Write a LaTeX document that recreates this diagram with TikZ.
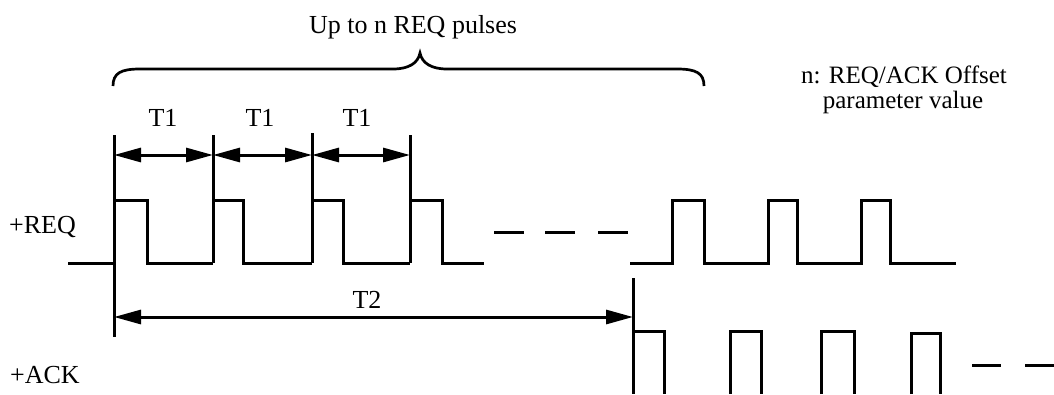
\documentclass[tikz,border=0pt]{standalone}
\usepackage{fontspec}
\setmainfont{Liberation Serif}
\usetikzlibrary{arrows.meta}
\begin{document}
\begin{tikzpicture}[x=1pt,y=-1pt,
  sig/.style={line width=3pt},
  brc/.style={line width=2.7pt},
  dim/.style={line width=3pt,{Triangle[length=27pt,width=14pt]}-{Triangle[length=27pt,width=14pt]}},
  lbl/.style={inner sep=0pt,anchor=base,font=\fontsize{26}{30}\selectfont}]
\useasboundingbox (0,0) rectangle (1054,394);
% brace
\draw[brc] (113,86) .. controls (113,73) and (121,69) .. (140,69) -- (393,69)
  .. controls (409,69) and (418,63) .. (420,53)
  .. controls (422,63) and (431,69) .. (447,69) -- (677,69)
  .. controls (696,69) and (704,73) .. (704,86);
\node[lbl] (up) at (413,33) {Up to n REQ pulses};
\node[lbl,font=\fontsize{25}{29}\selectfont] (off1) at (904,83) {n: REQ/ACK Offset};
\node[lbl,font=\fontsize{25}{29}\selectfont] (off2) at (903,108) {parameter value};
% labels
\node[lbl,anchor=base west] (req) at (9,233) {+REQ};
\node[lbl,anchor=base west] (ack) at (10,383) {+ACK};
% marker coordinates
\coordinate (m1t) at (114,135);
\coordinate (m1b) at (114,337);
\coordinate (m2t) at (213,135);
\coordinate (m3t) at (312,133);
\coordinate (m4t) at (410,135);
\coordinate (m5t) at (633,278);
\coordinate (m5b) at (633,394);
% markers
\draw[sig] (m1t) -- (m1b);
\draw[sig] (m2t) -- (213,263);
\draw[sig] (m3t) -- (312,263);
\draw[sig] (m4t) -- (410,263);
\draw[sig] (m5t) -- (m5b);
% REQ waveform left
\draw[sig] (68,263) -- (114,263);
\draw[sig] (114,200) -- (147,200) -- (147,263) -- (213,263);
\draw[sig] (213,200) -- (243,200) -- (243,263) -- (312,263);
\draw[sig] (312,200) -- (343,200) -- (343,263) -- (410,263);
\draw[sig] (410,200) -- (442,200) -- (442,263) -- (484,263);
% dashes
\draw[sig] (494,232) -- (524,232);
\draw[sig] (545,232) -- (575,232);
\draw[sig] (598,232) -- (628,232);
% REQ waveform right
\draw[sig] (630,263) -- (672,263) -- (672,200) -- (704,200) -- (704,263)
  -- (768,263) -- (768,200) -- (797,200) -- (797,263)
  -- (861,263) -- (861,200) -- (890,200) -- (890,263) -- (956,263);
% ACK waveform
\draw[sig] (633,331) -- (664,331) -- (664,394);
\draw[sig] (730,394) -- (730,331) -- (761,331) -- (761,394);
\draw[sig] (821,394) -- (821,331) -- (854,331) -- (854,394);
\draw[sig] (911,394) -- (911,333) -- (940,333) -- (940,394);
\draw[sig] (972,365) -- (1001,365);
\draw[sig] (1025,365) -- (1054,365);
% T1 arrows
\draw[dim] (m1t |- 0,155) -- (m2t |- 0,155);
\draw[dim] (m2t |- 0,155) -- (m3t |- 0,155);
\draw[dim] (m3t |- 0,155) -- (m4t |- 0,155);
\node[lbl] (t1a) at (163,126) {T1};
\node[lbl] (t1b) at (260,126) {T1};
\node[lbl] (t1c) at (357,126) {T1};
% T2 arrow
\draw[dim] (m1t |- 0,317) -- (m5t |- 0,317);
\node[lbl] (t2) at (367,308) {T2};
\end{tikzpicture}
\end{document}
